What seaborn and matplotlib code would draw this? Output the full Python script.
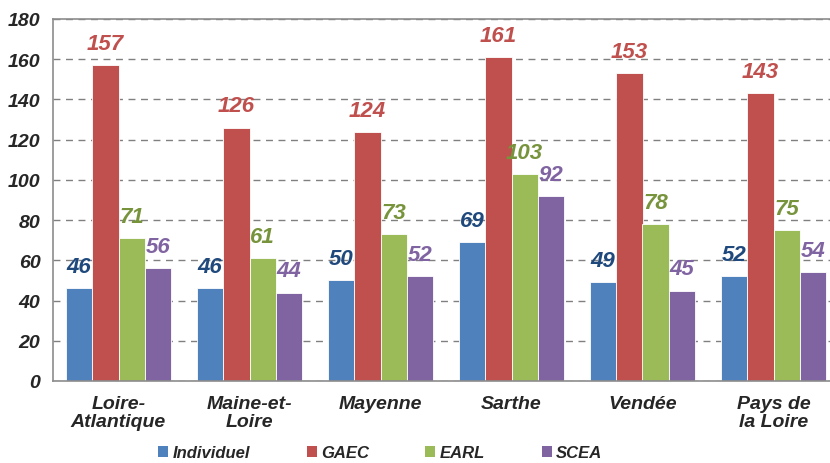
import matplotlib
matplotlib.use("Agg")
import matplotlib.pyplot as plt
import seaborn as sns
import pandas as pd
from matplotlib.patches import Patch

departements = ["Loire-\nAtlantique", "Maine-et-\nLoire", "Mayenne", "Sarthe", "Vendée", "Pays de\nla Loire"]
statuts = ["Individuel", "GAEC", "EARL", "SCEA"]
individuel = [46, 46, 50, 69, 49, 52]
gaec = [157, 126, 124, 161, 153, 143]
earl = [71, 61, 73, 103, 78, 75]
scea = [56, 44, 52, 92, 45, 54]

bar_colors = ["#4F81BD", "#C0504D", "#9BBB59", "#8064A2"]
label_colors = ["#1F497D", "#C0504D", "#77933C", "#8064A2"]

rows = []
for statut, vals in zip(statuts, [individuel, gaec, earl, scea]):
    for dep, v in zip(departements, vals):
        rows.append({"departement": dep, "statut": statut, "valeur": v})
df = pd.DataFrame(rows)

sns.set_style("white")
plt.rcParams["font.family"] = ["Liberation Sans", "DejaVu Sans"]

fig = plt.figure(figsize=(8.3, 4.64), dpi=100)
ax = fig.add_axes([53 / 830, 82 / 464, (839 - 53) / 830, 362 / 464])

sns.barplot(
    data=df,
    x="departement",
    y="valeur",
    hue="statut",
    order=departements,
    hue_order=statuts,
    palette=bar_colors,
    saturation=1,
    width=0.8,
    edgecolor="white",
    linewidth=0.6,
    legend=False,
    ax=ax,
)

for container, col in zip(ax.containers, label_colors):
    ax.bar_label(
        container,
        labels=[f"{int(b.get_height())}" for b in container],
        padding=8,
        color=col,
        fontsize=16,
        fontweight="bold",
        fontstyle="italic",
    )

ax.set_ylim(0, 180)
ax.set_yticks(range(0, 181, 20))
ax.set_xlim(-0.5, len(departements) - 0.5)
ax.yaxis.grid(True, linestyle=(0, (5, 4)), color="#808080", linewidth=1)
ax.set_axisbelow(True)
ax.set_xlabel("")
ax.set_ylabel("")

for side in ["left", "bottom", "top"]:
    ax.spines[side].set_color("#8C8C8C")
    ax.spines[side].set_linewidth(1.2)
ax.spines["right"].set_visible(False)

ax.set_xticks([i - 0.5 for i in range(len(departements) + 1)], minor=True)
ax.tick_params(axis="x", which="minor", length=5, color="#8C8C8C", width=1.2, direction="out")
ax.tick_params(axis="x", which="major", length=0, pad=10)
ax.tick_params(axis="y", length=4, color="#8C8C8C", width=1.2, pad=5)

for lbl in ax.get_xticklabels():
    lbl.set_fontsize(14)
    lbl.set_fontweight("bold")
    lbl.set_fontstyle("italic")
    lbl.set_linespacing(1.05)
for lbl in ax.get_yticklabels():
    lbl.set_fontsize(14)
    lbl.set_fontweight("bold")
    lbl.set_fontstyle("italic")

handles = [Patch(facecolor=c, edgecolor="none") for c in bar_colors]
fig.legend(
    handles,
    statuts,
    loc="center",
    bbox_to_anchor=(0.458, 1 - 454 / 464),
    ncol=4,
    frameon=False,
    handlelength=0.6,
    handleheight=0.6,
    handletextpad=0.25,
    columnspacing=3.4,
    prop={"size": 12, "weight": "bold", "style": "italic"},
)
fig.savefig("out.png", dpi=100)
